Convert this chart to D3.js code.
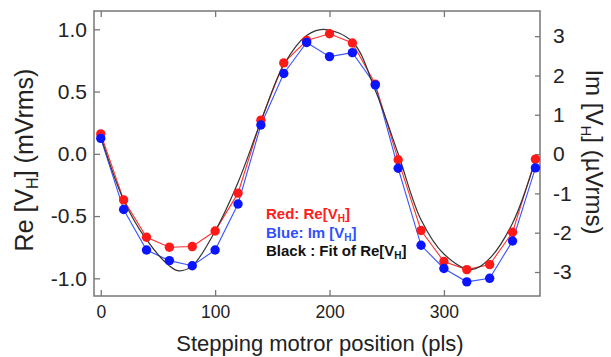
<!DOCTYPE html>
<html>
<head>
<meta charset="utf-8">
<script src="https://cdn.jsdelivr.net/npm/d3@7"></script>
<style>
  body { margin: 0; background: #fff; }
  svg text { font-family: "Liberation Sans", Arial, sans-serif; }
</style>
</head>
<body>
<svg id="chart" width="611" height="357"></svg>
<script>
// stepping motor positions (pls)
var positions = [0, 20, 40, 60, 80, 100, 120, 140, 160, 180, 200, 220, 240, 260, 280, 300, 320, 340, 360, 380];
// Re[VH] in mVrms (left axis)
var reValues = [0.16, -0.37, -0.67, -0.75, -0.745, -0.62, -0.316, 0.27, 0.73, 0.91, 0.964, 0.89, 0.56, -0.048, -0.616, -0.865, -0.93, -0.89, -0.63, -0.043];
// Im[VH] in uVrms (right axis)
var imValues = [0.40, -1.41, -2.44, -2.71, -2.84, -2.44, -1.27, 0.74, 2.05, 2.84, 2.48, 2.58, 1.76, -0.36, -2.32, -2.91, -3.25, -3.16, -2.21, -0.35];
// fit of Re[VH]
var fitX = [0, 20, 40, 60, 68, 80, 100, 120, 140, 160, 180, 195, 220, 240, 260, 280, 300, 324, 340, 360, 380];
var fitY = [0.14, -0.37, -0.69, -0.90, -0.94, -0.90, -0.62, -0.23, 0.26, 0.715, 0.95, 1.0, 0.90, 0.51, 0.0, -0.53, -0.805, -0.93, -0.84, -0.557, -0.05];

var xTicks = [0, 100, 200, 300];
var leftTicks = [-1.0, -0.5, 0.0, 0.5, 1.0];
var rightTicks = [-3, -2, -1, 0, 1, 2, 3];

var svg = d3.select("#chart");
var plotL = 94, plotR = 540, plotT = 11, plotB = 296;

var x = d3.scaleLinear().domain([-5.9, 384]).range([plotL, plotR]);
var yL = d3.scaleLinear().domain([-1.142, 1.147]).range([plotB, plotT]);
var yR = d3.scaleLinear().domain([-3.61, 3.64]).range([plotB, plotT]);

var axisColor = "#777";

function styleAxis(g, size) {
    g.select(".domain").remove();
    g.selectAll(".tick line").attr("stroke", axisColor).attr("stroke-width", 1.3);
    g.selectAll(".tick text").attr("fill", "#222").style("font-size", size + "px");
}

svg.append("g").attr("transform", "translate(0," + plotB + ")")
    .call(d3.axisBottom(x).tickValues(xTicks).tickFormat(d3.format("d")).tickSizeInner(-6).tickSizeOuter(0).tickPadding(10))
    .call(styleAxis, 17.5);
svg.append("g").attr("transform", "translate(0," + plotT + ")")
    .call(d3.axisTop(x).tickValues(xTicks).tickFormat("").tickSizeInner(-6).tickSizeOuter(0))
    .call(styleAxis, 17);
svg.append("g").attr("transform", "translate(" + plotL + ",0)")
    .call(d3.axisLeft(yL).tickValues(leftTicks).tickFormat(d3.format(".1f")).tickSizeInner(-6).tickSizeOuter(0).tickPadding(7))
    .call(styleAxis, 21);
svg.append("g").attr("transform", "translate(" + plotR + ",0)")
    .call(d3.axisRight(yR).tickValues(rightTicks).tickFormat(d3.format("d")).tickSizeInner(-5).tickSizeOuter(0).tickPadding(13))
    .call(styleAxis, 21);

svg.selectAll(".tick text").text(function() { return this.textContent.replace("\u2212", "-"); });

svg.append("rect")
    .attr("x", plotL).attr("y", plotT)
    .attr("width", plotR - plotL).attr("height", plotB - plotT)
    .attr("fill", "none").attr("stroke", axisColor).attr("stroke-width", 1.5);

// data lines
var redLine = d3.line().x(function(d, i) { return x(positions[i]); }).y(function(d) { return yL(d); });
var blueLine = d3.line().x(function(d, i) { return x(positions[i]); }).y(function(d) { return yR(d); });
var fitLine = d3.line().x(function(d, i) { return x(fitX[i]); }).y(function(d) { return yL(d); }).curve(d3.curveCatmullRom);

svg.append("path").datum(reValues).attr("d", redLine)
    .attr("fill", "none").attr("stroke", "#ff3030").attr("stroke-width", 1.1);
svg.append("path").datum(imValues).attr("d", blueLine)
    .attr("fill", "none").attr("stroke", "#3a55ff").attr("stroke-width", 1.1);
svg.append("path").datum(fitY).attr("d", fitLine)
    .attr("fill", "none").attr("stroke", "#333").attr("stroke-width", 1.2);

svg.append("g").selectAll("circle").data(reValues).enter().append("circle")
    .attr("cx", function(d, i) { return x(positions[i]); })
    .attr("cy", function(d) { return yL(d); })
    .attr("r", 4.7).attr("fill", "#ff1a1a");
svg.append("g").selectAll("circle").data(imValues).enter().append("circle")
    .attr("cx", function(d, i) { return x(positions[i]); })
    .attr("cy", function(d) { return yR(d); })
    .attr("r", 4.7).attr("fill", "#0a14ff");

// axis titles
svg.append("text")
    .attr("x", (plotL + plotR) / 2 + 3).attr("y", 351)
    .attr("text-anchor", "middle").attr("fill", "#222")
    .style("font-size", "22px")
    .text("Stepping motror position (pls)");

var lt = svg.append("text")
    .attr("transform", "translate(33,160) rotate(-90)")
    .attr("text-anchor", "middle").attr("fill", "#222")
    .style("font-size", "25px");
lt.append("tspan").text("Re [V");
lt.append("tspan").attr("dy", 5).style("font-size", "16px").text("H");
lt.append("tspan").attr("dy", -5).text("] (mVrms)");

var rt = svg.append("text")
    .attr("transform", "translate(586,152) rotate(90)")
    .attr("text-anchor", "middle").attr("fill", "#222")
    .style("font-size", "24px");
rt.append("tspan").text("Im [V");
rt.append("tspan").attr("dy", 5).style("font-size", "15px").text("H");
rt.append("tspan").attr("dy", -5).text("] (\u00b5Vrms)");

// legend
var legendItems = [
    { pre: "Red: Re[V", post: "]", color: "#ff2020" },
    { pre: "Blue: Im [V", post: "]", color: "#3050ff" },
    { pre: "Black : Fit of Re[V", post: "]", color: "#111" }
];
legendItems.forEach(function(item, i) {
    var t = svg.append("text")
        .attr("x", 266).attr("y", 219 + i * 18.5)
        .attr("fill", item.color)
        .style("font-size", "15px").style("font-weight", "bold");
    t.append("tspan").text(item.pre);
    t.append("tspan").attr("dy", 3).style("font-size", "10px").text("H");
    t.append("tspan").attr("dy", -3).text(item.post);
});
</script>
</body>
</html>
